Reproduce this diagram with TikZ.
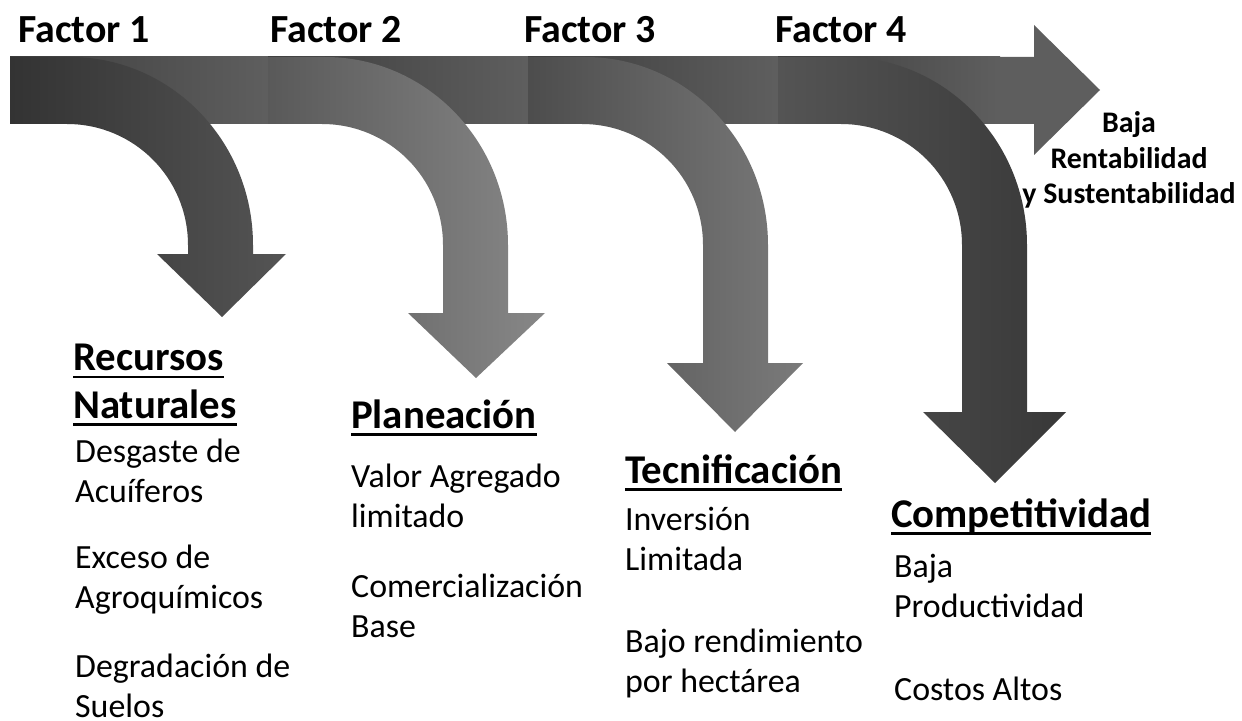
\documentclass[tikz,border=0pt]{standalone}
\usepackage{fontspec}
\setmainfont{Carlito}
\usepackage{tikz}
\usetikzlibrary{calc}

\newcommand{\headul}[1]{\setbox0\hbox{#1}\rlap{\rule[-8pt]{\wd0}{2.6pt}}\box0}

\begin{document}
\begin{tikzpicture}[x=1bp,y=-1bp,
    factor/.style={anchor=base west,inner sep=0pt,font=\fontsize{40}{48}\selectfont\bfseries},
    heading/.style={anchor=base west,inner sep=0pt,align=left,font=\fontsize{41}{48}\selectfont\bfseries},
    item/.style={anchor=base west,inner sep=0pt,align=left,font=\fontsize{34}{40}\selectfont},
    result/.style={anchor=base,inner sep=0pt,align=center,font=\fontsize{30}{36}\selectfont\bfseries}]
    \useasboundingbox (0,0) rectangle (1242,721);

    % main arrow
    \fill[black!63] (1000,57) -- (1034,57) -- (1034,25) -- (1100,90) -- (1034,155) -- (1034,124) -- (1000,124) -- cycle;
    \foreach \xa/\xb in {10/268,268/528,528/778,778/1000}
        \shade[left color=black!76,right color=black!63] (\xa,57) rectangle (\xb,124);

    % bent arrows
    \foreach \xt/\xi/\yb/\hl/\hr/\tx/\ty/\cl/\cr in {
        10/188/254/157/286/222/317/black!80/black!67,
        268/443/313/408/545/476/378/black!65/black!47,
        528/703/363/667/803/735/432/black!70/black!52,
        778/962/412/923/1066/995/483/black!67/black!78}
        \shade[left color=\cl,right color=\cr]
            (\xt,57) -- (\xi-118,57) .. controls (\xi-17,57) and (\xi+65,141) .. (\xi+65,245)
            -- (\xi+65,\yb) -- (\hr,\yb) -- (\tx,\ty) -- (\hl,\yb) -- (\xi,\yb) -- (\xi,245)
            .. controls (\xi,178) and (\xi-54,124) .. (\xi-121,124) -- (\xt,124) -- cycle;

    % labels (multi-line nodes sit on their last baseline)
    \node[factor] (f1) at (18,43) {Factor 1};
    \node[factor] (f2) at (270,43) {Factor 2};
    \node[factor] (f3) at (524,43) {Factor 3};
    \node[factor] (f4) at (775,43) {Factor 4};
    \node[result] (res) at (1129,204) {Baja\\Rentabilidad\\y Sustentabilidad};

    \node[heading] (rn) at (73,418) {\headul{Recursos}\\\headul{Naturales}};
    \node[item] (rn1) at (75,502) {Desgaste de\\Acuíferos};
    \node[item] (rn2) at (75,608) {Exceso de\\Agroquímicos};
    \node[item] (rn3) at (75,717) {Degradación de\\Suelos};

    \node[heading] (pl) at (351,428) {\headul{Planeación}};
    \node[item] (pl1) at (351,527) {Valor Agregado\\limitado};
    \node[item] (pl2) at (351,637) {Comercialización\\Base};

    \node[heading] (tc) at (625,483) {\headul{Tecnificación}};
    \node[item] (tc1) at (625,570) {Inversión\\Limitada};
    \node[item] (tc2) at (625,692) {Bajo rendimiento\\por hectárea};

    \node[heading] (cp) at (891,527) {\headul{Competitividad}};
    \node[item] (cp1) at (894,617) {Baja\\Productividad};
    \node[item] (cp2) at (894,700) {Costos Altos};
\end{tikzpicture}
\end{document}
